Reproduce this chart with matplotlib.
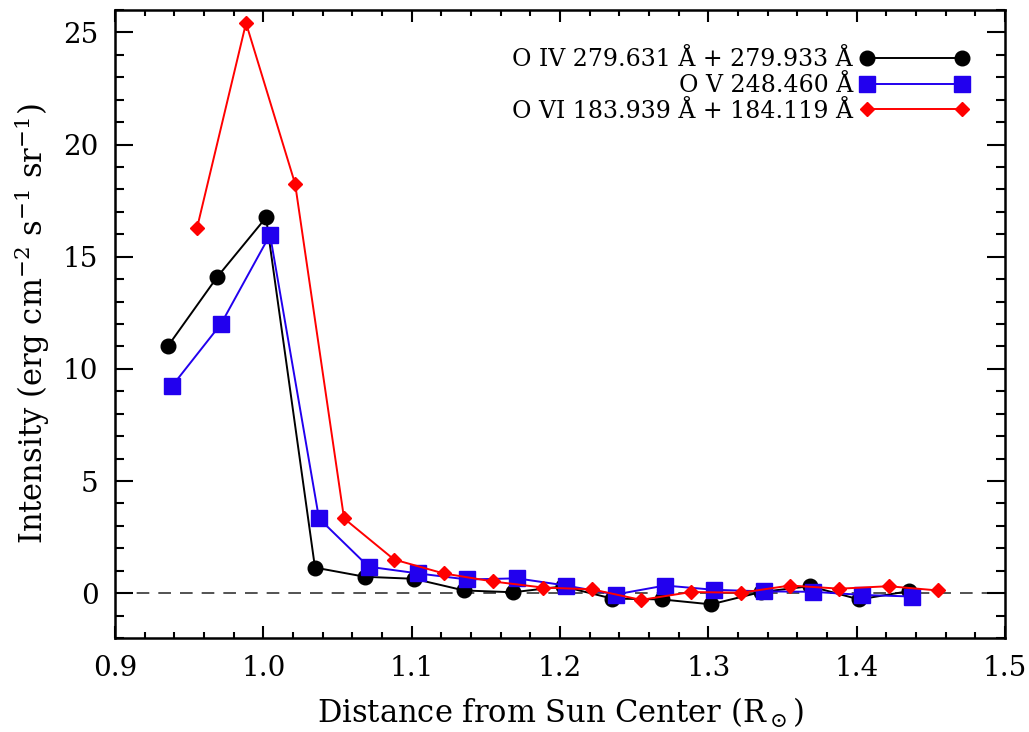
import matplotlib
matplotlib.use("Agg")
import matplotlib.pyplot as plt
from matplotlib.ticker import MultipleLocator

# distances (solar radii) and intensities
xOIV = [0.9357, 0.9688, 1.0018, 1.0348, 1.0685, 1.1016, 1.1353, 1.1683,
        1.2020, 1.2351, 1.2688, 1.3018, 1.3355, 1.3685, 1.4016, 1.4353]
yOIV = [11.02, 14.09, 16.75, 1.14, 0.73, 0.64, 0.12, 0.04,
        0.30, -0.24, -0.28, -0.50, 0.05, 0.31, -0.28, 0.09]

xOV = [0.9384, 0.9715, 1.0045, 1.0375, 1.0709, 1.1043, 1.1373, 1.1710,
       1.2040, 1.2374, 1.2708, 1.3038, 1.3375, 1.3706, 1.4039, 1.4373]
yOV = [9.23, 12.01, 15.98, 3.33, 1.18, 0.88, 0.61, 0.66,
       0.34, -0.06, 0.34, 0.15, 0.08, 0.06, -0.08, -0.15]

xOVI = [0.9553, 0.9883, 1.0214, 1.0544, 1.0881, 1.1215, 1.1548, 1.1885,
        1.2216, 1.2546, 1.2883, 1.3220, 1.3551, 1.3884, 1.4215, 1.4548]
yOVI = [16.29, 25.42, 18.25, 3.33, 1.50, 0.88, 0.52, 0.25,
        0.17, -0.30, 0.05, 0.02, 0.34, 0.20, 0.31, 0.12]

labels = ["O IV 279.631 Å + 279.933 Å", "O V 248.460 Å",
          "O VI 183.939 Å + 184.119 Å"]

plt.rcParams['font.family'] = ['DejaVu Serif']
plt.rcParams['mathtext.fontset'] = 'dejavuserif'

fig = plt.figure(figsize=(10.29, 7.32), dpi=100)
ax = fig.add_axes([0.1118, 0.1284, 0.8649, 0.8579])

ax.axhline(0, color="#444444", lw=1.3, ls=(0, (7, 5)), zorder=1)
ax.plot(xOIV, yOIV, color="black", lw=1.4, marker="o", ms=10.5, label=labels[0])
ax.plot(xOV, yOV, color="#2200ee", lw=1.4, marker="s", ms=11.5, label=labels[1])
ax.plot(xOVI, yOVI, color="red", lw=1.4, marker="D", ms=7.5, label=labels[2])

ax.set_xlim(0.9, 1.5)
ax.set_ylim(-2, 26)
ax.xaxis.set_major_locator(MultipleLocator(0.1))
ax.xaxis.set_minor_locator(MultipleLocator(0.02))
ax.yaxis.set_major_locator(MultipleLocator(5))
ax.yaxis.set_minor_locator(MultipleLocator(1))
ax.set_xticklabels([f"{v:.1f}" for v in ax.get_xticks()])

ax.tick_params(which="both", direction="in", top=True, right=True, width=1.5,
               labelsize=20)
ax.tick_params(axis="x", which="major", length=8.5, pad=12)
ax.tick_params(axis="x", which="minor", length=4.3)
ax.tick_params(axis="y", which="major", length=13, pad=12)
ax.tick_params(axis="y", which="minor", length=6.8)
for s in ax.spines.values():
    s.set_linewidth(1.8)

ax.set_xlabel(r"Distance from Sun Center (R$_\odot$)", fontsize=22, labelpad=10)
ax.set_ylabel(r"Intensity (erg cm$^{-2}$ s$^{-1}$ sr$^{-1}$)", fontsize=22, labelpad=8)

leg = ax.legend(loc="upper right", frameon=False, markerfirst=False, numpoints=2,
                handlelength=4.6, fontsize=17, labelspacing=0.12,
                bbox_to_anchor=(0.975, 0.962), handletextpad=0.3,
                borderaxespad=0.2)
for t in leg.get_texts():
    t.set_ha("right")
leg._legend_box.align = "right"

fig.savefig("out.png", dpi=100)
